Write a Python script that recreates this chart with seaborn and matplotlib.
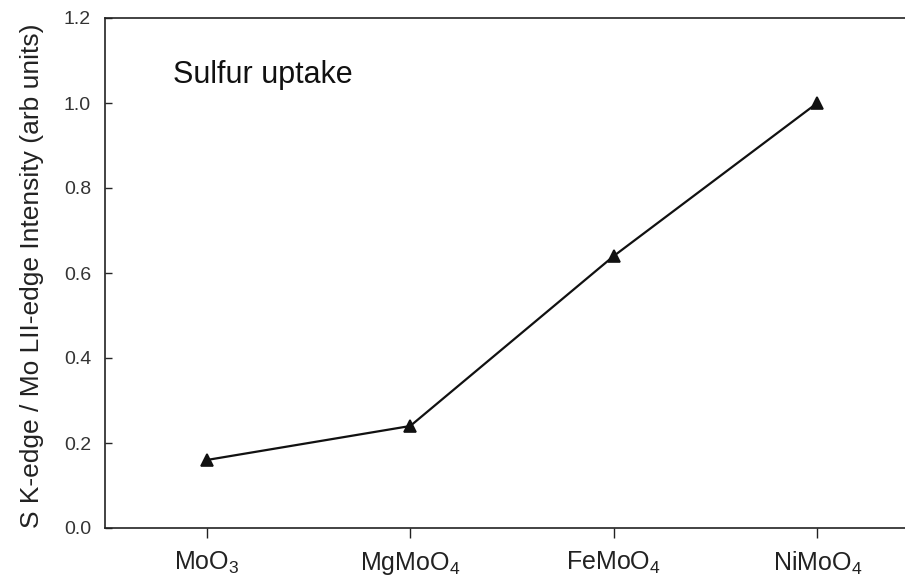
import matplotlib
matplotlib.use("Agg")
import matplotlib.pyplot as plt
import seaborn as sns
import pandas as pd

categories = ["MoO$_3$", "MgMoO$_4$", "FeMoO$_4$", "NiMoO$_4$"]
values = [0.16, 0.24, 0.64, 1.0]
yticks = [0.0, 0.2, 0.4, 0.6, 0.8, 1.0, 1.2]

sns.set_style("white")
plt.rcParams['font.family'] = ['Liberation Sans', 'DejaVu Sans']
plt.rcParams['mathtext.fontset'] = 'custom'
plt.rcParams['mathtext.rm'] = 'Liberation Sans'
plt.rcParams['mathtext.it'] = 'Liberation Sans'

df = pd.DataFrame({"cat": categories, "val": values})

fig = plt.figure(figsize=(9.05, 5.79), dpi=100)
ax = fig.add_axes([105/905, 1 - 528/579, (919 - 105)/905, (528 - 18)/579])
sns.pointplot(data=df, x="cat", y="val", color="#111111", markers="^",
              linestyles="-", ax=ax, markersize=9, linewidth=1.6)
ax.set_xlim(-0.5, 3.5)
ax.set_ylim(0, 1.2)
ax.set_yticks(yticks)
ax.set_yticklabels([f"{t:.1f}" for t in yticks], fontsize=14, color="#333333")
ax.set_xlabel("")
ax.set_ylabel("S K-edge / Mo LII-edge Intensity (arb units)", fontsize=19, color="#222222")
ax.yaxis.set_label_coords(-(105 - 44) / 814, (528 - 276) / 510)
ax.tick_params(axis='x', direction='out', length=7, width=1, labelsize=18, pad=9, colors="#222222")
ax.tick_params(axis='y', direction='in', length=5, width=1, pad=10)
ax.tick_params(axis='x', which='both', bottom=True)
ax.tick_params(axis='y', which='both', left=True)
for s in ["left", "bottom", "top"]:
    ax.spines[s].set_visible(True)
    ax.spines[s].set_color("#222222")
    ax.spines[s].set_linewidth(1.2)
ax.spines["right"].set_visible(False)
ax.text((173 - 105) / 814, (528 - 75) / 510, "Sulfur uptake", transform=ax.transAxes,
        fontsize=22, color="#111111", ha="left", va="center")
fig.savefig("out.png", dpi=100)
